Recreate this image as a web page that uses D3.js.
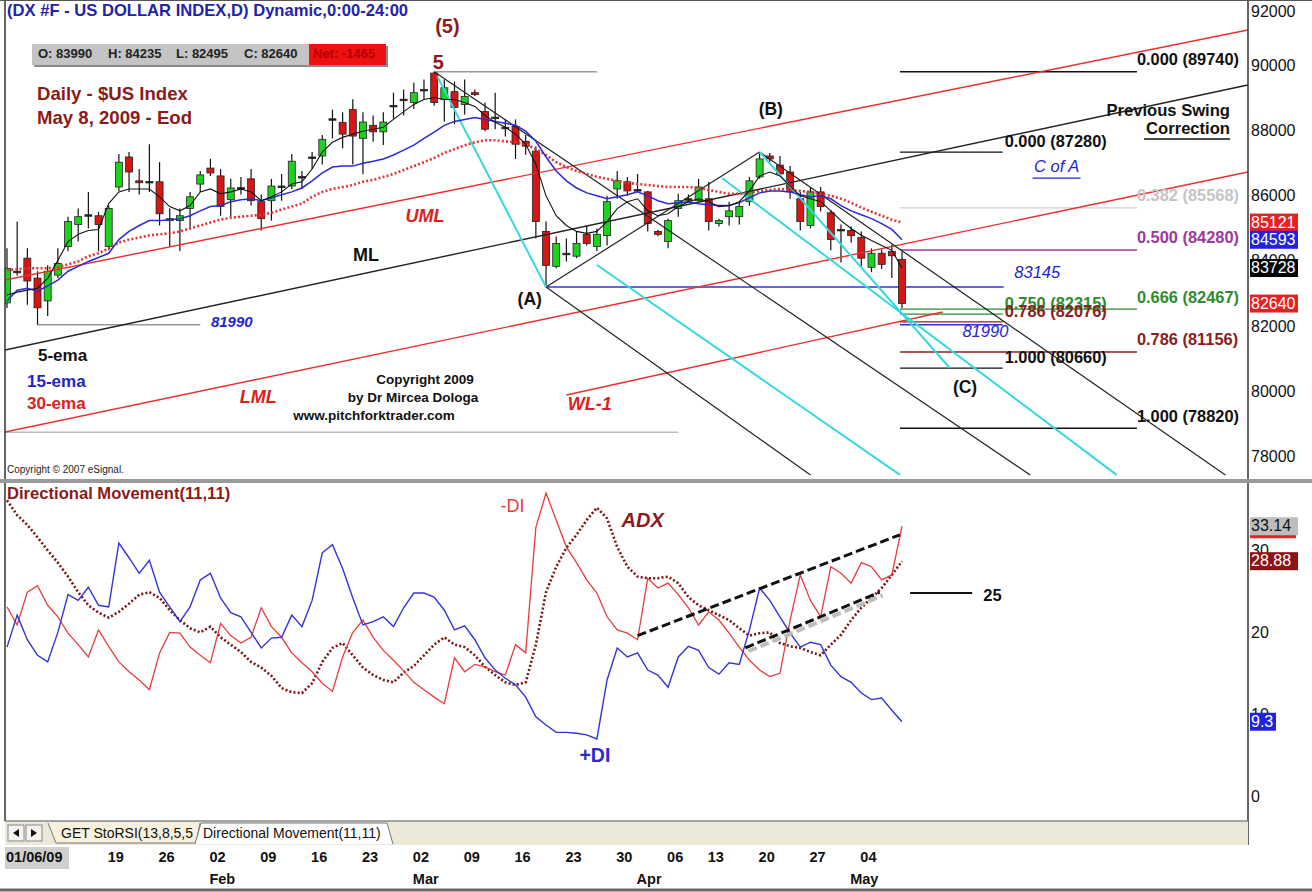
<!DOCTYPE html>
<html>
<head>
<meta charset="utf-8">
<script src="https://cdn.jsdelivr.net/npm/d3@7"></script>
<style>
  body { margin: 0; background: #fff; }
  svg { display: block; font-family: "Liberation Sans", Arial, sans-serif; }
</style>
</head>
<body>
<div id="canvas"></div>
<script>
"use strict"

// CANVAS + PANEL LAYOUT

let svgWidth = 1312;
let svgHeight = 892;

let plotLeft = 5;
let plotRight = 1248;   // right price axis starts here
let priceTop = 0;
let priceBottom = 479;
let dmiTop = 484;
let dmiBottom = 820;
let tabTop = 821;
let tabBottom = 845;

let darkRed = "#8b1a1a";

// DATA - daily $US index futures, Jan 5 .. May 8 2009

let openP = [82660, 83630, 84030, 83420, 82720, 83510, 84390, 85060, 85330, 85330,
    84390, 86210, 87130, 86400, 86370, 86370, 85240, 85180, 85550, 86300,
    86790, 86550, 85820, 86180, 86460, 85760, 85790, 86210, 86240, 86520,
    87130, 87160, 88280, 88190, 88580, 87700, 88100, 87900, 88700, 88900,
    88800, 89190, 89700, 88890, 89130, 88740, 89100, 88520, 88340, 88040,
    88070, 87610, 87310, 84850, 83780, 84180, 84090, 84760, 84390, 84720,
    86150, 86370, 86120, 86060, 84850, 84540, 85550, 85850, 85790, 85850,
    85090, 85300, 85300, 85760, 86520, 87160, 86880, 86670, 85850, 85030,
    86060, 85420, 84910, 84880, 84660, 83750, 84180, 84240, 83990];

let highP = [84330, 85150, 84330, 83630, 83810, 84330, 85300, 85550, 86060, 85450,
    85640, 87220, 87280, 86760, 87520, 86970, 85550, 85550, 86060, 86700,
    87070, 86760, 86460, 86520, 86760, 85980, 86460, 86610, 87220, 86700,
    87280, 87800, 88580, 88500, 88900, 88500, 88400, 88500, 89100, 89200,
    89400, 89500, 89740, 89500, 89440, 89500, 89200, 88800, 89100, 88280,
    88280, 87800, 87460, 85150, 84690, 84630, 84850, 85030, 84940, 85940,
    86700, 86520, 86610, 86090, 84900, 85240, 86000, 85980, 86460, 86370,
    85240, 85760, 85760, 86520, 87280, 87250, 87160, 86850, 86060, 86210,
    86210, 85500, 85060, 85000, 84850, 84330, 84300, 84450, 84235];

let lowP = [82500, 83500, 82600, 81990, 82260, 83420, 84240, 84540, 84940, 84240,
    84270, 86090, 86060, 85980, 86060, 85030, 84390, 84240, 84940, 86060,
    86550, 85330, 85300, 85980, 85640, 84880, 85180, 85790, 86150, 86150,
    86760, 86900, 87700, 87400, 86900, 86600, 87600, 87500, 88300, 88400,
    88600, 88900, 88700, 88220, 88130, 88430, 89000, 87920, 87980, 87760,
    87070, 87200, 84630, 83145, 83720, 83930, 84030, 84420, 84240, 84420,
    85850, 85940, 86060, 84850, 84700, 84330, 85300, 85750, 85760, 84880,
    85000, 85030, 85060, 85640, 86460, 86970, 86610, 85850, 84880, 84940,
    85460, 84270, 83900, 84500, 83780, 83600, 83700, 83420, 82495];

let closeP = [83720, 83600, 83330, 82510, 83630, 83870, 85150, 85300, 85360, 85060,
    85550, 86970, 86670, 86340, 86380, 85390, 85180, 85330, 85910, 86580,
    86640, 85610, 86180, 86190, 85790, 85240, 86240, 86240, 87000, 86530,
    87120, 87670, 88300, 87830, 87770, 88200, 87900, 88200, 88710, 88890,
    89100, 89200, 88800, 89250, 88650, 88980, 89040, 87980, 88350, 88030,
    87520, 87460, 85150, 83810, 84480, 84170, 84480, 84480, 84760, 85760,
    86400, 86090, 86130, 85090, 84760, 85180, 85790, 85840, 86210, 85150,
    85180, 85480, 85610, 86400, 87070, 87070, 86610, 86060, 85150, 86060,
    85610, 84600, 84900, 84720, 84030, 84180, 83840, 84105, 82640];

let ema5 = [82900, 82990, 83050, 83110, 83410, 83960, 84540, 84760, 84880, 84910,
    85700, 86060, 86150, 86150, 86150, 85910, 85610, 85480, 85640, 86060,
    86150, 86000, 86060, 86150, 86060, 85790, 85910, 86060, 86300, 86370,
    86760, 87280, 87580, 87730, 87830, 87920, 87980, 88040, 88280, 88520,
    88740, 88890, 88950, 88890, 88890, 88800, 88680, 88400, 88190, 88040,
    87830, 87520, 86910, 85940, 85330, 85030, 84850, 84790, 84850, 85150,
    85550, 85760, 85850, 85480, 85330, 85390, 85610, 85760, 85850, 85760,
    85610, 85640, 85760, 86090, 86550, 86670, 86550, 86240, 85940, 85850,
    85760, 85480, 85180, 84940, 84730, 84570, 84420, 84270, 83728];

let ema15 = [82720, 83050, 83110, 83020, 83180, 83360, 83630, 83780, 83930, 84050,
    84180, 84600, 84850, 85030, 85180, 85180, 85210, 85240, 85330, 85480,
    85610, 85640, 85760, 85820, 85850, 85790, 85880, 85970, 86060, 86180,
    86400, 86640, 86820, 86850, 86850, 86940, 87000, 87070, 87190, 87340,
    87490, 87700, 87890, 88100, 88220, 88280, 88340, 88280, 88220, 88160,
    88100, 87920, 87610, 87130, 86700, 86400, 86180, 86030, 85940, 85850,
    85910, 85970, 86060, 85940, 85790, 85700, 85730, 85760, 85700, 85670,
    85640, 85640, 85730, 85880, 86030, 86090, 86090, 86060, 85970, 85910,
    85940, 85850, 85640, 85480, 85360, 85240, 85090, 84910, 84593];

let ema30 = [83660, 83690, 83720, 83720, 83720, 83750, 83840, 83930, 84090, 84180,
    84330, 84510, 84600, 84660, 84730, 84760, 84790, 84850, 84940, 85030,
    85120, 85210, 85270, 85300, 85330, 85360, 85420, 85520, 85610, 85700,
    85910, 86060, 86150, 86210, 86270, 86370, 86430, 86520, 86610, 86730,
    86850, 86970, 87100, 87250, 87370, 87490, 87580, 87640, 87640, 87610,
    87580, 87520, 87370, 87190, 86970, 86820, 86700, 86610, 86520, 86460,
    86400, 86340, 86300, 86270, 86240, 86210, 86210, 86210, 86180, 86120,
    86060, 86000, 86000, 86030, 86090, 86120, 86150, 86120, 86090, 86060,
    86000, 85940, 85850, 85730, 85580, 85450, 85330, 85210, 85121];

// Directional Movement(11,11)
let plusDI = [18.4, 22.3, 19.3, 17.4, 16.6, 20.2, 24.8, 24.1, 25.7, 23.5,
    23.3, 31.1, 29.3, 27.4, 29.0, 25.1, 23.3, 21.5, 23.3, 26.6,
    27.4, 24.4, 22.6, 22.1, 20.2, 18.3, 19.5, 19.6, 22.3, 20.9,
    24.1, 29.9, 30.9, 28.0, 24.4, 21.1, 21.5, 22.1, 20.9, 23.2,
    25.0, 25.0, 24.5, 22.9, 20.5, 21.0, 19.3, 17.1, 15.6, 14.6,
    13.8, 12.3, 9.9, 8.9, 8.0, 8.0, 7.9, 7.7, 7.2, 14.4,
    18.3, 17.2, 17.7, 15.6, 15.0, 13.5, 17.2, 18.5, 18.0, 15.9,
    15.1, 16.5, 16.3, 20.5, 25.6, 24.1, 22.1, 20.1, 18.4, 19.0,
    18.7, 16.2, 14.8, 14.1, 12.8, 12.0, 12.2, 10.7, 9.3];

let minusDI = [23.3, 21.1, 25.1, 25.9, 23.5, 22.1, 20.1, 18.7, 17.2, 20.5,
    18.5, 16.6, 15.4, 14.4, 13.2, 17.7, 20.2, 20.1, 18.4, 17.4,
    16.5, 21.3, 19.8, 18.9, 19.6, 23.2, 20.9, 19.6, 17.7, 16.5,
    15.4, 14.0, 13.0, 17.2, 20.2, 21.7, 19.6, 18.0, 16.8, 15.5,
    14.1, 13.2, 12.3, 11.5, 17.1, 15.4, 16.3, 16.0, 15.4, 15.0,
    18.7, 17.7, 33.0, 37.2, 33.9, 30.6, 28.7, 26.6, 25.0, 22.1,
    20.5, 20.1, 19.3, 26.8, 25.6, 26.2, 24.8, 23.2, 21.1, 22.7,
    21.7, 20.1, 18.4, 16.8, 15.6, 14.8, 15.2, 21.7, 27.2, 24.1,
    22.1, 28.2, 27.4, 26.2, 28.7, 28.2, 26.6, 27.2, 33.14];

let adx = [36.3, 34.5, 33.3, 31.8, 30.2, 28.7, 27.0, 25.1, 23.5, 22.6,
    22.0, 22.7, 23.7, 24.8, 25.1, 24.4, 22.9, 21.7, 20.7, 20.2,
    20.9, 19.6, 18.7, 17.8, 16.6, 15.9, 14.9, 13.4, 12.9, 12.8,
    14.0, 16.6, 18.3, 18.9, 17.4, 15.9, 15.0, 14.4, 14.1, 15.3,
    16.1, 17.4, 18.7, 19.6, 18.7, 18.4, 17.4, 16.0, 15.0, 14.1,
    13.8, 14.1, 18.7, 25.1, 28.2, 30.5, 32.1, 33.9, 35.4, 34.1,
    30.6, 28.2, 27.0, 26.8, 26.8, 27.0, 26.2, 24.5, 23.5, 22.9,
    22.3, 21.7, 20.7, 19.8, 20.1, 20.2, 18.9, 18.5, 18.3, 17.8,
    17.4, 18.7, 19.9, 21.7, 23.2, 24.4, 25.6, 27.2, 28.88];

// axis ticks
let priceTicks = [78000, 80000, 82000, 84000, 86000, 88000, 90000, 92000];
let dmiTicks = [0, 10, 20, 30];

let dayTickIdx = [10, 15, 20, 25, 30, 35, 40, 45, 50, 55, 60, 65, 69, 74, 79, 84];
let dayTickText = ["19", "26", "02", "09", "16", "23", "02", "09", "16", "23", "30", "06", "13", "20", "27", "04"];
let monthIdx = [20, 40, 62, 83];
let monthText = ["Feb", "Mar", "Apr", "May"];
let startDateText = "01/06/09";

// fibonacci levels
let fibLongNames = ["0.000", "0.382", "0.500", "0.666", "0.786", "1.000"];
let fibLongValues = [89740, 85568, 84280, 82467, 81156, 78820];
let fibShortNames = ["0.000", "0.750", "0.786", "1.000"];
let fibShortValues = [87280, 82315, 82076, 80660];

// pitchfork + trend lines, [bar index, price]
let umlLine = [[-0.2, 83360], [122, 91018]];
let mlLine = [[-0.2, 81216], [122, 89333]];
let lmlLine = [[-0.2, 78704], [122, 86668]];
let wl1Line = [[55, 79838], [92, 82380]];
let downFromTop = [[42, 89740], [100.6, 77390]];
let downFromA = [[53, 83145], [79, 77390]];
let downFromB = [[74, 87280], [119.8, 77390]];
let aToB = [[53, 83145], [74, 87280]];
let cyanTopToA = [[42.3, 89600], [53, 83145]];
let cyanMid = [[58, 83820], [87.8, 77390]];
let cyanRight = [[70.3, 86485], [109.1, 77390]];
let cyanFromB = [[74, 87280], [92.7, 80665]];
let topGrayLine = [[42, 89740], [58, 89740]];
let lowGrayLine = [[3, 81990], [19, 81990]];
let bottomGrayLine = [[-0.2, 78700], [66, 78700]];
let aLevelLine = [[53, 83145], [98, 83145]];

// DMI trend lines, [bar index, value]
let dmiUpper = [[62, 19.8], [87.8, 32.1]];
let dmiLower = [[72.6, 18.3], [85.8, 25.1]];
let adxLevel = [[88.8, 25], [94.9, 25]];


// SCALES

let xScale = d3.scaleLinear().domain([0, 88]).range([7, 902]);
let yScale = d3.scaleLinear().domain([78000, 92000]).range([455, -2]);
let dmiScale = d3.scaleLinear().domain([0, 40]).range([798, 470]);


// CANVAS

let svg = d3.select("#canvas")
    .append("svg")
    .attr("width", svgWidth)
    .attr("height", svgHeight);

svg.append("rect")
    .attr("width", svgWidth)
    .attr("height", svgHeight)
    .attr("fill", "white");

let defs = svg.append("defs");
defs.append("clipPath").attr("id", "clipPrice")
    .append("rect")
    .attr("x", plotLeft).attr("y", priceTop)
    .attr("width", plotRight - plotLeft).attr("height", priceBottom - priceTop);
defs.append("clipPath").attr("id", "clipDmi")
    .append("rect")
    .attr("x", plotLeft).attr("y", dmiTop)
    .attr("width", plotRight - plotLeft).attr("height", dmiBottom - dmiTop);

let pricePanel = svg.append("g").attr("clip-path", "url(#clipPrice)");
let dmiPanel = svg.append("g").attr("clip-path", "url(#clipDmi)");


// small helpers

function segment(layer, pts, color, width, dash, scaleY) {
    let ys = scaleY || yScale;
    return layer.append("line")
        .attr("x1", xScale(pts[0][0]))
        .attr("y1", ys(pts[0][1]))
        .attr("x2", xScale(pts[1][0]))
        .attr("y2", ys(pts[1][1]))
        .attr("stroke", color)
        .attr("stroke-width", width)
        .attr("stroke-dasharray", dash || null);
}

function label(x, y, str, color, size, opts) {
    opts = opts || {};
    return svg.append("text")
        .attr("x", x)
        .attr("y", y)
        .attr("fill", color)
        .attr("text-anchor", opts.anchor || "start")
        .attr("dominant-baseline", "middle")
        .style("font-size", size + "px")
        .style("font-weight", opts.weight || "bold")
        .style("font-style", opts.italic ? "italic" : "normal")
        .text(str);
}


// PRICE PANEL - background lines

segment(pricePanel, topGrayLine, "#999", 1.5);
segment(pricePanel, lowGrayLine, "#999", 1.5);
segment(pricePanel, bottomGrayLine, "#bbb", 1.5);

// fib levels
let longStart = 87.8, longEnd = 111.1, shortEnd = 97.9;
let fibLongColors = ["#111", "#cfcfcf", "#9b3a9b", "#2e8b2e", "#8b2020", "#111"];
let fibShortColors = ["#111", "#2e8b2e", "#8b2020", "#111"];

fibLongValues.forEach(function (v, i) {
    segment(pricePanel, [[longStart, v], [longEnd, v]], fibLongColors[i], 1.3);
});
fibShortValues.forEach(function (v, i) {
    segment(pricePanel, [[longStart, v], [shortEnd, v]], fibShortColors[i], 1.3);
});
segment(pricePanel, [[longStart, 81990], [shortEnd, 81990]], "#3333cc", 1.3);
segment(pricePanel, aLevelLine, "#3333dd", 1.5);


// CANDLESTICKS

let candleWidth = 7;
let bars = d3.range(closeP.length);

pricePanel.selectAll(".wick")
    .data(bars)
    .join("line")
    .attr("class", "wick")
    .attr("x1", function (i) { return xScale(i); })
    .attr("x2", function (i) { return xScale(i); })
    .attr("y1", function (i) { return yScale(highP[i]); })
    .attr("y2", function (i) { return yScale(lowP[i]); })
    .attr("stroke", "#111")
    .attr("stroke-width", 1.2);

pricePanel.selectAll(".body")
    .data(bars)
    .join("rect")
    .attr("class", "body")
    .attr("x", function (i) { return xScale(i) - candleWidth / 2; })
    .attr("y", function (i) { return yScale(Math.max(openP[i], closeP[i])); })
    .attr("width", candleWidth)
    .attr("height", function (i) {
        return Math.max(1.5, Math.abs(yScale(openP[i]) - yScale(closeP[i])));
    })
    .attr("fill", function (i) {
        if (Math.abs(openP[i] - closeP[i]) < 40) return "#222";
        return closeP[i] > openP[i] ? "#1fd11f" : "#d81515";
    })
    .attr("stroke", "#222")
    .attr("stroke-width", 0.8);


// TREND LINES / PITCHFORK

segment(pricePanel, umlLine, "#e83030", 1.4);
segment(pricePanel, mlLine, "#222", 1.4);
segment(pricePanel, lmlLine, "#e83030", 1.4);
segment(pricePanel, wl1Line, "#e83030", 1.4);
segment(pricePanel, downFromTop, "#222", 1.2);
segment(pricePanel, downFromA, "#222", 1.2);
segment(pricePanel, downFromB, "#222", 1.2);
segment(pricePanel, aToB, "#222", 1.2);
segment(pricePanel, cyanTopToA, "#35d8e0", 2);
segment(pricePanel, cyanMid, "#35d8e0", 2);
segment(pricePanel, cyanRight, "#35d8e0", 2);
segment(pricePanel, cyanFromB, "#35d8e0", 2);


// MOVING AVERAGES

let priceLine = function (series) {
    return d3.line()
        .x(function (v, i) { return xScale(i); })
        .y(function (v) { return yScale(v); })(series);
};

pricePanel.append("path")
    .attr("d", priceLine(ema30))
    .attr("fill", "none")
    .attr("stroke", "#e43434")
    .attr("stroke-width", 2.6)
    .attr("stroke-dasharray", "2 2.2");

pricePanel.append("path")
    .attr("d", priceLine(ema15))
    .attr("fill", "none")
    .attr("stroke", "#2a2ad6")
    .attr("stroke-width", 1.5);

pricePanel.append("path")
    .attr("d", priceLine(ema5))
    .attr("fill", "none")
    .attr("stroke", "#111")
    .attr("stroke-width", 1.1);


// DMI PANEL

let dmiLine = function (series) {
    return d3.line()
        .x(function (v, i) { return xScale(i); })
        .y(function (v) { return dmiScale(v); })(series);
};

dmiPanel.append("path")
    .attr("d", dmiLine(adx))
    .attr("fill", "none")
    .attr("stroke", "#7a1414")
    .attr("stroke-width", 2.6)
    .attr("stroke-dasharray", "2 2.2");

dmiPanel.append("path")
    .attr("d", dmiLine(minusDI))
    .attr("fill", "none")
    .attr("stroke", "#e63c3c")
    .attr("stroke-width", 1.3);

dmiPanel.append("path")
    .attr("d", dmiLine(plusDI))
    .attr("fill", "none")
    .attr("stroke", "#3434d4")
    .attr("stroke-width", 1.4);

// shadow + dashed trendlines
segment(dmiPanel, [[dmiLower[0][0] + 0.3, dmiLower[0][1] - 0.4], [dmiLower[1][0] + 0.3, dmiLower[1][1] - 0.4]], "#bdbdbd", 4, "9 4", dmiScale);
segment(dmiPanel, dmiUpper, "#111", 3, "9 4", dmiScale);
segment(dmiPanel, dmiLower, "#111", 3, "9 4", dmiScale);
segment(svg, adxLevel, "#111", 2, null, dmiScale);


// FRAME

svg.append("line").attr("x1", plotLeft).attr("x2", plotLeft).attr("y1", 0).attr("y2", tabTop)
    .attr("stroke", "#333").attr("stroke-width", 1.5);
svg.append("line").attr("x1", plotRight).attr("x2", plotRight).attr("y1", 0).attr("y2", tabBottom)
    .attr("stroke", "#333").attr("stroke-width", 1.5);
svg.append("line").attr("x1", 0).attr("x2", svgWidth).attr("y1", 0.5).attr("y2", 0.5)
    .attr("stroke", "#555").attr("stroke-width", 1);
svg.append("rect").attr("x", 0).attr("y", priceBottom).attr("width", svgWidth).attr("height", 4)
    .attr("fill", "#9a9a9a");
svg.append("line").attr("x1", 0).attr("x2", svgWidth).attr("y1", svgHeight - 2).attr("y2", svgHeight - 2)
    .attr("stroke", "#666").attr("stroke-width", 3);


// RIGHT AXES

priceTicks.forEach(function (t) {
    label(plotRight + 3, Math.max(13, yScale(t) + 3), String(t), "#111", 16, { weight: "normal" });
});
dmiTicks.forEach(function (t) {
    label(plotRight + 3, dmiScale(t), String(t), "#111", 16, { weight: "normal" });
});

function valueBox(y, str, bg, fg) {
    svg.append("rect")
        .attr("x", plotRight + 2).attr("y", y - 9)
        .attr("width", 48).attr("height", 18)
        .attr("fill", bg);
    label(plotRight + 3, y + 1, str, fg, 16, { weight: "normal" });
}

valueBox(yScale(ema30[88]), String(ema30[88]), "#e52222", "white");
valueBox(yScale(ema15[88]), String(ema15[88]), "#2222e0", "white");
valueBox(yScale(ema5[88]), String(ema5[88]), "#050505", "white");
valueBox(yScale(closeP[88]), String(closeP[88]), "#e52222", "white");

svg.append("rect").attr("x", plotRight + 2).attr("y", dmiScale(minusDI[88]) + 8)
    .attr("width", 46).attr("height", 4).attr("fill", "#e52222");
valueBox(dmiScale(minusDI[88]), String(minusDI[88]), "#bdbdbd", "#111");
valueBox(dmiScale(adx[88]), String(adx[88]), "#8e1414", "white");
svg.append("rect").attr("x", plotRight + 2).attr("y", dmiScale(plusDI[88]) - 9)
    .attr("width", 26).attr("height", 18).attr("fill", "#2222e0");
label(plotRight + 3, dmiScale(plusDI[88]) + 1, String(plusDI[88]), "white", 16, { weight: "normal" });


// HEADER + LEGENDS

label(7, 12, "(DX #F - US DOLLAR INDEX,D) Dynamic,0:00-24:00", "#2323a8", 16.6);

// OHLC strip, values from last bar
svg.append("rect").attr("x", 34).attr("y", 46).attr("width", 354).attr("height", 21).attr("fill", "#8a8a8a");
svg.append("rect").attr("x", 32).attr("y", 44).attr("width", 354).attr("height", 21).attr("fill", "#c4c4c4");
svg.append("rect").attr("x", 309).attr("y", 44).attr("width", 77).attr("height", 21).attr("fill", "#ee1111");
let ohlcText = ["O: " + openP[88], "H: " + highP[88], "L: " + lowP[88], "C: " + closeP[88]];
let ohlcX = [38, 108, 176, 244];
ohlcText.forEach(function (s, i) {
    label(ohlcX[i], 55, s, "#222", 13);
});
label(313, 55, "Net: " + (closeP[88] - closeP[87]), "#b30000", 13);

label(37, 95, "Daily - $US Index", darkRed, 18.6);
label(37, 119, "May 8, 2009 - Eod", darkRed, 18.6);

label(38, 357, "5-ema", "#111", 17);
label(27, 383, "15-ema", "#2323c8", 17);
label(27, 405, "30-ema", "#e02020", 17);

label(425, 380, "Copyright 2009", "#111", 13.5, { anchor: "middle" });
label(413, 398, "by Dr Mircea Dologa", "#111", 13.5, { anchor: "middle" });
label(374, 416, "www.pitchforktrader.com", "#111", 13.5, { anchor: "middle" });
label(7, 470, "Copyright \u00a9 2007 eSignal.", "#222", 10, { weight: "normal" });


// CHART ANNOTATIONS, placed in bar/price units

let annoText = ["(5)", "5", "(B)", "(A)", "(C)"];
let annoIdx = [43.3, 42.4, 75.1, 51.4, 94.2];
let annoPrice = [91079, 89990, 88567, 82748, 80052];
let annoColor = [darkRed, darkRed, "#111", "#111", "#111"];
annoText.forEach(function (s, i) {
    label(xScale(annoIdx[i]), yScale(annoPrice[i]), s, annoColor[i], i < 2 ? 20 : 17.5, { anchor: "middle" });
});

let forkText = ["UML", "ML", "LML", "WL-1"];
let forkIdx = [41.1, 35.3, 24.7, 57.3];
let forkPrice = [85290, 84095, 79746, 79532];
let forkColor = ["#e02020", "#111", "#e02020", "#e02020"];
forkText.forEach(function (s, i) {
    label(xScale(forkIdx[i]), yScale(forkPrice[i]), s, forkColor[i], 18, { anchor: "middle", italic: s !== "ML" });
});

label(xScale(22.1), yScale(82043), "81990", "#2323d0", 15, { anchor: "middle", italic: true });
label(xScale(101.3), yScale(83544), "83145", "#2323d0", 16.5, { anchor: "middle", italic: true, weight: "normal" });
label(xScale(96.2), yScale(81737), "81990", "#2323d0", 16.5, { anchor: "middle", italic: true, weight: "normal" });

label(xScale(103.2), yScale(86791), "C of A", "#2323d0", 16.5, { anchor: "middle", italic: true, weight: "normal" });
svg.append("line").attr("x1", xScale(103.2) - 24).attr("x2", xScale(103.2) + 24)
    .attr("y1", yScale(86791) + 10).attr("y2", yScale(86791) + 10).attr("stroke", "#2323d0").attr("stroke-width", 1.3);

label(1230, 112, "Previous Swing", "#111", 16.6, { anchor: "end" });
label(1230, 130, "Correction", "#111", 16.6, { anchor: "end" });
svg.append("line").attr("x1", 1144).attr("x2", 1230).attr("y1", 139).attr("y2", 139).attr("stroke", "#111").attr("stroke-width", 1.3);

fibLongValues.forEach(function (v, i) {
    label(xScale(longEnd), yScale(v) - 11, fibLongNames[i] + " (" + v + ")", fibLongColors[i] === "#cfcfcf" ? "#c4c4c4" : fibLongColors[i], 16.4);
});
fibShortValues.forEach(function (v, i) {
    label(xScale(shortEnd) + 2, yScale(v) - 9, fibShortNames[i] + " (" + v + ")", fibShortColors[i], 16.4);
});

// DMI labels
label(7, 495, "Directional Movement(11,11)", darkRed, 16.6);
label(xScale(49.7), dmiScale(35.4), "-DI", "#e63c3c", 18, { anchor: "middle", weight: "normal" });
label(xScale(62.5), dmiScale(33.7), "ADX", "#8b1a1a", 20, { anchor: "middle", italic: true });
label(xScale(57.8), dmiScale(5.0), "+DI", "#2b2bd0", 19.5, { anchor: "middle" });
label(xScale(96.9), dmiScale(24.5), "25", "#111", 16.5, { anchor: "middle" });


// TAB BAR

svg.append("rect").attr("x", plotLeft).attr("y", tabTop).attr("width", plotRight - plotLeft).attr("height", tabBottom - tabTop)
    .attr("fill", "#ece9d8");
svg.append("line").attr("x1", plotLeft).attr("x2", plotRight).attr("y1", tabTop).attr("y2", tabTop)
    .attr("stroke", "#888").attr("stroke-width", 1.5);

[8, 26].forEach(function (bx, i) {
    svg.append("rect").attr("x", bx).attr("y", tabTop + 4).attr("width", 16).attr("height", 16)
        .attr("fill", "#f4f3ee").attr("stroke", "#888");
    let cx = bx + 8, cy = tabTop + 12;
    let pts = i === 0
        ? [[cx + 3, cy - 4], [cx + 3, cy + 4], [cx - 3, cy]]
        : [[cx - 3, cy - 4], [cx - 3, cy + 4], [cx + 3, cy]];
    svg.append("path").attr("d", "M" + pts.join("L") + "Z").attr("fill", "#111");
});

svg.append("path")
    .attr("d", "M48," + (tabTop + 2) + "L56," + (tabBottom - 2) + "L196," + (tabBottom - 2) + "L200," + (tabTop + 2))
    .attr("fill", "#f6f1dc").attr("stroke", "#777");
svg.append("path")
    .attr("d", "M195," + (tabBottom - 1) + "L201," + (tabTop + 2) + "L387," + (tabTop + 2) + "L393," + (tabBottom - 1))
    .attr("fill", "white").attr("stroke", "#777");
label(61, 834, "GET StoRSI(13,8,5,5", "#111", 14, { weight: "normal" });
label(203, 834, "Directional Movement(11,11)", "#111", 14, { weight: "normal" });


// DATE AXIS

svg.append("rect").attr("x", plotLeft).attr("y", 847).attr("width", 64).attr("height", 22).attr("fill", "#cfcfcf");
label(plotLeft + 1, 858, startDateText, "#111", 14.5);

dayTickIdx.forEach(function (idx, i) {
    label(xScale(idx) - 1, 858, dayTickText[i], "#111", 14.5);
});
monthIdx.forEach(function (idx, i) {
    label(xScale(idx) - 1, 880, monthText[i], "#111", 14.5);
});
</script>
</body>
</html>
